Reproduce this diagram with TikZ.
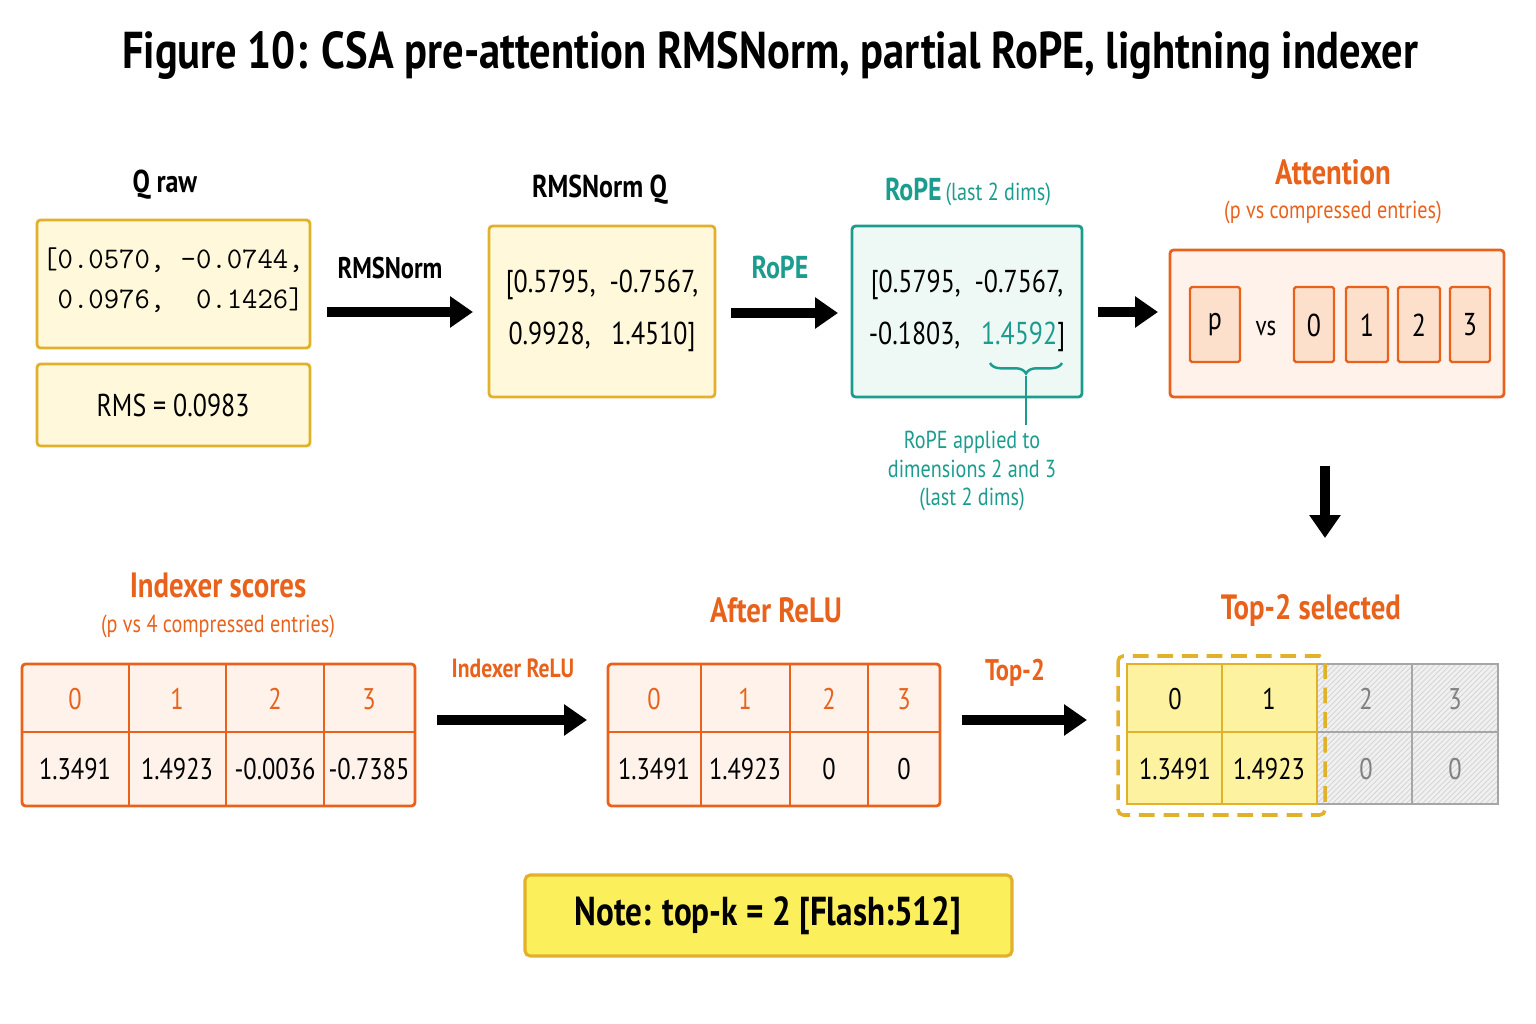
\documentclass[tikz,border=0pt]{standalone}
\usepackage{fontspec}
\setmainfont{PT Sans}[FakeStretch=0.82]
\usetikzlibrary{arrows.meta,patterns,decorations.pathreplacing}
\definecolor{ybord}{HTML}{E2B12C}
\definecolor{yfill}{HTML}{FFF8DA}
\definecolor{tbord}{HTML}{1C9C8E}
\definecolor{tfill}{HTML}{EEF9F6}
\definecolor{obord}{HTML}{E8621C}
\definecolor{ofill}{HTML}{FFF2EA}
\definecolor{ocell}{HTML}{FCE0CC}
\definecolor{selfill}{HTML}{FDF2A0}
\definecolor{notefill}{HTML}{FCEF5C}
\tikzset{
  fs/.style={font=\fontsize{#1}{#1}\selectfont},
  ybox/.style={draw=ybord, fill=yfill, line width=1.6pt, rounded corners=2pt},
  tbox/.style={draw=tbord, fill=tfill, line width=1.6pt, rounded corners=2pt},
  obox/.style={draw=obord, fill=ofill, line width=1.6pt, rounded corners=2pt},
  bigarrow/.style={line width=5.5pt, -{Triangle[length=13pt,width=17pt]}},
  cellt/.style={fs=17, text=obord},
  cellv/.style={fs=17}
}
\begin{document}
\begin{tikzpicture}[x=0.02cm, y=-0.02cm]
\useasboundingbox (0,0) rectangle (1536,1024);
% title
\node[fs=29.5] (title) at (770,55) {\textbf{Figure 10: CSA pre-attention RMSNorm, partial RoPE, lightning indexer}};

% Q raw
\node[fs=18] (qlab) at (165,185) {\textbf{Q raw}};
\draw[ybox] (37,220) rectangle (310,348);
\node[fs=17, align=center] (qraw) at (173,280) {\texttt{[0.0570, -0.0744,}\\[6pt]\texttt{\ 0.0976,\ \ 0.1426]}};
\draw[ybox] (37,364) rectangle (310,446);
\node[fs=18] (rms) at (173,405) {RMS = 0.0983};

% RMSNorm Q
\node[fs=17] (rlab) at (390,268) {\textbf{RMSNorm}};
\coordinate (a1s) at (327,312);
\coordinate (a1e) at (473,312);
\draw[bigarrow] (a1s) -- (a1e);
\node[fs=18] (nlab) at (600,190) {\textbf{RMSNorm Q}};
\draw[ybox] (489,226) rectangle (715,397);
\node[fs=18, align=center] (nq) at (602,311) {[0.5795,\ \ -0.7567,\\[12pt]0.9928,\ \ \ 1.4510]};

% RoPE
\node[fs=18, text=tbord] (plab) at (780,267) {\textbf{RoPE}};
\coordinate (a2s) at (731,313);
\coordinate (a2e) at (838,313);
\draw[bigarrow] (a2s) -- (a2e);
\node[text=tbord] (ropelab) at (968,192) {{\fontsize{18}{18}\selectfont\textbf{RoPE}} {\fontsize{14}{14}\selectfont(last 2 dims)}};
\draw[tbox] (852,226) rectangle (1082,397);
\node[fs=18, align=center] (rq) at (967,311) {[0.5795,\ \ -0.7567,\\[12pt]-0.1803,\ \ \ \textcolor{tbord}{1.4592}]};
\draw[tbord, line width=1.4pt, decorate, decoration={brace, mirror, amplitude=6pt}] (990,363) -- (1062,363);
\coordinate (brt) at (1026,376);
\node[fs=14, text=tbord, align=center] (rnote) at (972,471) {RoPE applied to\\[2pt]dimensions 2 and 3\\[2pt](last 2 dims)};
\draw[tbord, line width=1.4pt] (brt) -- (rnote.north -| brt);

% Attention
\coordinate (a3s) at (1098,312);
\coordinate (a3e) at (1158,312);
\draw[bigarrow] (a3s) -- (a3e);
\node[fs=20, text=obord] (alab) at (1333,172) {\textbf{Attention}};
\node[fs=14, text=obord] (asub) at (1333,212) {(p vs compressed entries)};
\draw[obox] (1170,250) rectangle (1504,397);
\foreach \nm/\xa/\xb/\t in {p/1190/1240/p, c0/1294/1334/0, c1/1346/1388/1, c2/1398/1440/2, c3/1450/1490/3} {
  \draw[draw=obord, fill=ocell, line width=1.4pt, rounded corners=1pt] (\xa,287) rectangle (\xb,362);
  \node[fs=18] (\nm) at ({(\xa+\xb)/2},325) {\t};
}
\node[fs=16] (vs) at (1266,328) {vs};
\coordinate (a4s) at (1325,466);
\coordinate (a4e) at (1325,538);
\draw[bigarrow] (a4s) -- (a4e);

% Indexer scores
\node[fs=20, text=obord] (ilab) at (218,585) {\textbf{Indexer scores}};
\node[fs=14, text=obord] (isub) at (218,626) {(p vs 4 compressed entries)};
\draw[obox] (22,664) rectangle (415,806);
\draw[obord, line width=1.4pt] (22,732) -- (415,732);
\foreach \x in {129,226,324} \draw[obord, line width=1.4pt] (\x,664) -- (\x,806);
\foreach \t/\v/\x in {0/1.3491/75, 1/1.4923/177, 2/-0.0036/275, 3/-0.7385/369} {
  \node[cellt] at (\x,699) {\t};
  \node[cellv] at (\x,769) {\v};
}

% After ReLU
\node[fs=15, text=obord] (relab) at (513,668) {\textbf{Indexer ReLU}};
\coordinate (a5s) at (437,720);
\coordinate (a5e) at (587,720);
\draw[bigarrow] (a5s) -- (a5e);
\node[fs=20, text=obord] (rlab2) at (776,610) {\textbf{After ReLU}};
\draw[obox] (608,664) rectangle (940,806);
\draw[obord, line width=1.4pt] (608,732) -- (940,732);
\foreach \x in {701,790,868} \draw[obord, line width=1.4pt] (\x,664) -- (\x,806);
\foreach \t/\v/\x in {0/1.3491/654, 1/1.4923/745, 2/0/829, 3/0/904} {
  \node[cellt] at (\x,699) {\t};
  \node[cellv] at (\x,769) {\v};
}

% Top-2
\node[fs=17, text=obord] (tlab) at (1015,673) {\textbf{Top-2}};
\coordinate (a6s) at (962,720);
\coordinate (a6e) at (1087,720);
\draw[bigarrow] (a6s) -- (a6e);
\node[fs=20, text=obord] (slab) at (1311,610) {\textbf{Top-2 selected}};
\fill[gray!12] (1317,664) rectangle (1498,804);
\fill[pattern=north east lines, pattern color=gray!35] (1317,664) rectangle (1498,804);
\draw[gray!70, line width=1.4pt] (1317,664) rectangle (1498,804) (1317,732) -- (1498,732) (1412,664) -- (1412,804);
\draw[fill=selfill, draw=ybord, line width=1.4pt] (1127,664) rectangle (1317,804);
\draw[ybord, line width=1.4pt] (1127,732) -- (1317,732) (1222,664) -- (1222,804);
\foreach \t/\v/\x/\c in {0/1.3491/1175/black, 1/1.4923/1269/black, 2/0/1366/gray, 3/0/1455/gray} {
  \node[fs=17, text=\c] at (\x,699) {\t};
  \node[fs=17, text=\c] at (\x,769) {\v};
}
\draw[ybord, line width=2pt, dash pattern=on 9pt off 5pt, rounded corners=3pt] (1118,656) rectangle (1325,815);

% note
\draw[draw=ybord, fill=notefill, line width=1.8pt, rounded corners=3pt] (525,875) rectangle (1012,956);
\node[fs=23] (note) at (768,916) {\textbf{Note: top-k = 2 [Flash:512]}};
\end{tikzpicture}
\end{document}
